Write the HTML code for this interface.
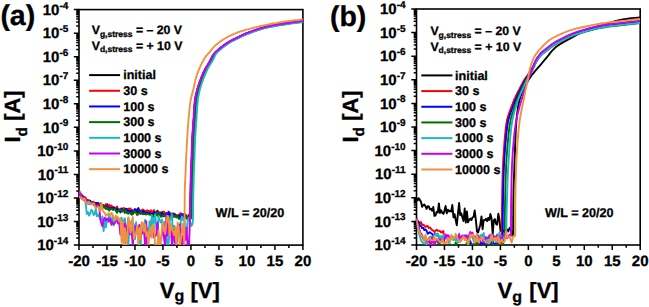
<!DOCTYPE html>
<html><head><meta charset="utf-8"><style>
html,body{margin:0;padding:0;background:#fff;}
body{width:649px;height:307px;overflow:hidden;}
svg{display:block;}
text{font-family:"Liberation Sans", sans-serif;font-weight:bold;fill:#000;text-rendering:geometricPrecision;stroke:#000;stroke-width:0.3px;}
</style></head><body>
<svg width="649" height="307" viewBox="0 0 649 307">
<rect x="79.00" y="9.60" width="223.90" height="235.50" fill="none" stroke="#000" stroke-width="1.6"/>
<path d="M73.80 9.60H79.00M76.20 26.06H79.00M76.20 21.91H79.00M76.20 18.97H79.00M76.20 16.69H79.00M76.20 14.82H79.00M76.20 13.25H79.00M76.20 11.88H79.00M76.20 10.68H79.00M73.80 33.15H79.00M76.20 49.61H79.00M76.20 45.46H79.00M76.20 42.52H79.00M76.20 40.24H79.00M76.20 38.37H79.00M76.20 36.80H79.00M76.20 35.43H79.00M76.20 34.23H79.00M73.80 56.70H79.00M76.20 73.16H79.00M76.20 69.01H79.00M76.20 66.07H79.00M76.20 63.79H79.00M76.20 61.92H79.00M76.20 60.35H79.00M76.20 58.98H79.00M76.20 57.78H79.00M73.80 80.25H79.00M76.20 96.71H79.00M76.20 92.56H79.00M76.20 89.62H79.00M76.20 87.34H79.00M76.20 85.47H79.00M76.20 83.90H79.00M76.20 82.53H79.00M76.20 81.33H79.00M73.80 103.80H79.00M76.20 120.26H79.00M76.20 116.11H79.00M76.20 113.17H79.00M76.20 110.89H79.00M76.20 109.02H79.00M76.20 107.45H79.00M76.20 106.08H79.00M76.20 104.88H79.00M73.80 127.35H79.00M76.20 143.81H79.00M76.20 139.66H79.00M76.20 136.72H79.00M76.20 134.44H79.00M76.20 132.57H79.00M76.20 131.00H79.00M76.20 129.63H79.00M76.20 128.43H79.00M73.80 150.90H79.00M76.20 167.36H79.00M76.20 163.21H79.00M76.20 160.27H79.00M76.20 157.99H79.00M76.20 156.12H79.00M76.20 154.55H79.00M76.20 153.18H79.00M76.20 151.98H79.00M73.80 174.45H79.00M76.20 190.91H79.00M76.20 186.76H79.00M76.20 183.82H79.00M76.20 181.54H79.00M76.20 179.67H79.00M76.20 178.10H79.00M76.20 176.73H79.00M76.20 175.53H79.00M73.80 198.00H79.00M76.20 214.46H79.00M76.20 210.31H79.00M76.20 207.37H79.00M76.20 205.09H79.00M76.20 203.22H79.00M76.20 201.65H79.00M76.20 200.28H79.00M76.20 199.08H79.00M73.80 221.55H79.00M76.20 238.01H79.00M76.20 233.86H79.00M76.20 230.92H79.00M76.20 228.64H79.00M76.20 226.77H79.00M76.20 225.20H79.00M76.20 223.83H79.00M76.20 222.63H79.00M73.80 245.10H79.00M79.00 245.10V250.10M92.99 245.10V247.90M106.99 245.10V250.10M120.98 245.10V247.90M134.97 245.10V250.10M148.97 245.10V247.90M162.96 245.10V250.10M176.96 245.10V247.90M190.95 245.10V250.10M204.94 245.10V247.90M218.94 245.10V250.10M232.93 245.10V247.90M246.92 245.10V250.10M260.92 245.10V247.90M274.91 245.10V250.10M288.91 245.10V247.90M302.90 245.10V250.10" stroke="#000" stroke-width="1.5" fill="none"/>
<text x="68.30" y="14.80" text-anchor="end" font-size="15">10<tspan font-size="10" dy="-6.2">-4</tspan></text>
<text x="68.30" y="38.35" text-anchor="end" font-size="15">10<tspan font-size="10" dy="-6.2">-5</tspan></text>
<text x="68.30" y="61.90" text-anchor="end" font-size="15">10<tspan font-size="10" dy="-6.2">-6</tspan></text>
<text x="68.30" y="85.45" text-anchor="end" font-size="15">10<tspan font-size="10" dy="-6.2">-7</tspan></text>
<text x="68.30" y="109.00" text-anchor="end" font-size="15">10<tspan font-size="10" dy="-6.2">-8</tspan></text>
<text x="68.30" y="132.55" text-anchor="end" font-size="15">10<tspan font-size="10" dy="-6.2">-9</tspan></text>
<text x="68.30" y="156.10" text-anchor="end" font-size="15">10<tspan font-size="10" dy="-6.2">-10</tspan></text>
<text x="68.30" y="179.65" text-anchor="end" font-size="15">10<tspan font-size="10" dy="-6.2">-11</tspan></text>
<text x="68.30" y="203.20" text-anchor="end" font-size="15">10<tspan font-size="10" dy="-6.2">-12</tspan></text>
<text x="68.30" y="226.75" text-anchor="end" font-size="15">10<tspan font-size="10" dy="-6.2">-13</tspan></text>
<text x="68.30" y="250.30" text-anchor="end" font-size="15">10<tspan font-size="10" dy="-6.2">-14</tspan></text>
<text x="79.00" y="266.10" text-anchor="middle" font-size="15">-20</text>
<text x="106.99" y="266.10" text-anchor="middle" font-size="15">-15</text>
<text x="134.97" y="266.10" text-anchor="middle" font-size="15">-10</text>
<text x="162.96" y="266.10" text-anchor="middle" font-size="15">-5</text>
<text x="190.95" y="266.10" text-anchor="middle" font-size="15">0</text>
<text x="218.94" y="266.10" text-anchor="middle" font-size="15">5</text>
<text x="246.92" y="266.10" text-anchor="middle" font-size="15">10</text>
<text x="274.91" y="266.10" text-anchor="middle" font-size="15">15</text>
<text x="302.90" y="266.10" text-anchor="middle" font-size="15">20</text>
<text x="0.38" y="25.2" font-size="28.5">(a)</text>
<text transform="translate(20.4,142.5) rotate(-90)" font-size="22">I<tspan font-size="15.4" dy="6.3">d</tspan><tspan dy="-6.3"> [A]</tspan></text>
<text x="159.85" y="297.7" font-size="22">V<tspan font-size="16" dy="3.6">g</tspan><tspan dy="-3.6" dx="0"> [V]</tspan></text>
<rect x="416.50" y="9.00" width="223.70" height="236.00" fill="none" stroke="#000" stroke-width="1.6"/>
<path d="M411.30 9.00H416.50M413.70 25.50H416.50M413.70 21.34H416.50M413.70 18.39H416.50M413.70 16.10H416.50M413.70 14.24H416.50M413.70 12.66H416.50M413.70 11.29H416.50M413.70 10.08H416.50M411.30 32.60H416.50M413.70 49.10H416.50M413.70 44.94H416.50M413.70 41.99H416.50M413.70 39.70H416.50M413.70 37.84H416.50M413.70 36.26H416.50M413.70 34.89H416.50M413.70 33.68H416.50M411.30 56.20H416.50M413.70 72.70H416.50M413.70 68.54H416.50M413.70 65.59H416.50M413.70 63.30H416.50M413.70 61.44H416.50M413.70 59.86H416.50M413.70 58.49H416.50M413.70 57.28H416.50M411.30 79.80H416.50M413.70 96.30H416.50M413.70 92.14H416.50M413.70 89.19H416.50M413.70 86.90H416.50M413.70 85.04H416.50M413.70 83.46H416.50M413.70 82.09H416.50M413.70 80.88H416.50M411.30 103.40H416.50M413.70 119.90H416.50M413.70 115.74H416.50M413.70 112.79H416.50M413.70 110.50H416.50M413.70 108.64H416.50M413.70 107.06H416.50M413.70 105.69H416.50M413.70 104.48H416.50M411.30 127.00H416.50M413.70 143.50H416.50M413.70 139.34H416.50M413.70 136.39H416.50M413.70 134.10H416.50M413.70 132.24H416.50M413.70 130.66H416.50M413.70 129.29H416.50M413.70 128.08H416.50M411.30 150.60H416.50M413.70 167.10H416.50M413.70 162.94H416.50M413.70 159.99H416.50M413.70 157.70H416.50M413.70 155.84H416.50M413.70 154.26H416.50M413.70 152.89H416.50M413.70 151.68H416.50M411.30 174.20H416.50M413.70 190.70H416.50M413.70 186.54H416.50M413.70 183.59H416.50M413.70 181.30H416.50M413.70 179.44H416.50M413.70 177.86H416.50M413.70 176.49H416.50M413.70 175.28H416.50M411.30 197.80H416.50M413.70 214.30H416.50M413.70 210.14H416.50M413.70 207.19H416.50M413.70 204.90H416.50M413.70 203.04H416.50M413.70 201.46H416.50M413.70 200.09H416.50M413.70 198.88H416.50M411.30 221.40H416.50M413.70 237.90H416.50M413.70 233.74H416.50M413.70 230.79H416.50M413.70 228.50H416.50M413.70 226.64H416.50M413.70 225.06H416.50M413.70 223.69H416.50M413.70 222.48H416.50M411.30 245.00H416.50M416.50 245.00V250.00M430.48 245.00V247.80M444.46 245.00V250.00M458.44 245.00V247.80M472.43 245.00V250.00M486.41 245.00V247.80M500.39 245.00V250.00M514.37 245.00V247.80M528.35 245.00V250.00M542.33 245.00V247.80M556.31 245.00V250.00M570.29 245.00V247.80M584.28 245.00V250.00M598.26 245.00V247.80M612.24 245.00V250.00M626.22 245.00V247.80M640.20 245.00V250.00" stroke="#000" stroke-width="1.5" fill="none"/>
<text x="405.60" y="14.20" text-anchor="end" font-size="15">10<tspan font-size="10" dy="-6.2">-4</tspan></text>
<text x="405.60" y="37.80" text-anchor="end" font-size="15">10<tspan font-size="10" dy="-6.2">-5</tspan></text>
<text x="405.60" y="61.40" text-anchor="end" font-size="15">10<tspan font-size="10" dy="-6.2">-6</tspan></text>
<text x="405.60" y="85.00" text-anchor="end" font-size="15">10<tspan font-size="10" dy="-6.2">-7</tspan></text>
<text x="405.60" y="108.60" text-anchor="end" font-size="15">10<tspan font-size="10" dy="-6.2">-8</tspan></text>
<text x="405.60" y="132.20" text-anchor="end" font-size="15">10<tspan font-size="10" dy="-6.2">-9</tspan></text>
<text x="405.60" y="155.80" text-anchor="end" font-size="15">10<tspan font-size="10" dy="-6.2">-10</tspan></text>
<text x="405.60" y="179.40" text-anchor="end" font-size="15">10<tspan font-size="10" dy="-6.2">-11</tspan></text>
<text x="405.60" y="203.00" text-anchor="end" font-size="15">10<tspan font-size="10" dy="-6.2">-12</tspan></text>
<text x="405.60" y="226.60" text-anchor="end" font-size="15">10<tspan font-size="10" dy="-6.2">-13</tspan></text>
<text x="405.60" y="250.20" text-anchor="end" font-size="15">10<tspan font-size="10" dy="-6.2">-14</tspan></text>
<text x="416.50" y="266.10" text-anchor="middle" font-size="15">-20</text>
<text x="444.46" y="266.10" text-anchor="middle" font-size="15">-15</text>
<text x="472.43" y="266.10" text-anchor="middle" font-size="15">-10</text>
<text x="500.39" y="266.10" text-anchor="middle" font-size="15">-5</text>
<text x="528.35" y="266.10" text-anchor="middle" font-size="15">0</text>
<text x="556.31" y="266.10" text-anchor="middle" font-size="15">5</text>
<text x="584.28" y="266.10" text-anchor="middle" font-size="15">10</text>
<text x="612.24" y="266.10" text-anchor="middle" font-size="15">15</text>
<text x="640.20" y="266.10" text-anchor="middle" font-size="15">20</text>
<text x="329.9" y="26.0" font-size="28.5">(b)</text>
<text transform="translate(358.0,142.5) rotate(-90)" font-size="22">I<tspan font-size="15.4" dy="6.3">d</tspan><tspan dy="-6.3"> [A]</tspan></text>
<text x="497.45" y="298.2" font-size="22">V<tspan font-size="16" dy="3.6">g</tspan><tspan dy="-3.6" dx="1.3"> [V]</tspan></text>
<clipPath id="clipA"><rect x="79.0" y="9.6" width="223.89999999999998" height="235.5"/></clipPath>
<clipPath id="clipB"><rect x="416.5" y="9.0" width="223.70000000000005" height="236.0"/></clipPath>
<g clip-path="url(#clipA)">
<path d="M79.0 193.9L80.1 194.4L81.2 194.7L82.4 196.3L83.5 196.6L84.6 198.9L85.7 201.6L86.8 199.8L88.0 200.3L89.1 202.5L90.2 202.9L91.3 203.1L92.4 202.2L93.6 203.9L94.7 205.4L95.8 202.9L96.9 204.6L98.0 202.9L99.2 204.1L100.3 203.6L101.4 206.2L102.5 205.0L103.6 207.4L104.8 207.5L105.9 207.3L107.0 204.2L108.1 207.2L109.2 208.1L110.4 208.5L111.5 206.4L112.6 208.1L113.7 207.5L114.8 207.9L116.0 210.7L117.1 208.3L118.2 209.5L119.3 210.9L120.4 209.0L121.6 209.8L122.7 210.2L123.8 210.3L124.9 208.6L126.0 210.6L127.2 212.5L128.3 208.6L129.4 212.0L130.5 211.1L131.6 210.2L132.8 214.0L133.9 212.4L135.0 209.7L136.1 211.6L137.2 212.4L138.4 211.5L139.5 212.8L140.6 211.9L141.7 213.0L142.8 214.2L144.0 211.3L145.1 212.7L146.2 211.9L147.3 212.8L148.4 211.0L149.6 212.0L150.7 212.6L151.8 214.3L152.9 214.7L154.0 211.4L155.2 212.2L156.3 214.3L157.4 210.7L158.5 213.0L159.6 213.6L160.8 215.6L161.9 214.9L163.0 213.6L164.1 213.6L165.2 213.9L166.4 216.5L167.5 213.9L168.6 214.1L169.7 215.2L170.8 214.6L172.0 214.6L173.1 213.4L174.2 215.0L175.3 214.5L176.4 216.9L177.6 216.3L178.7 215.4L179.8 216.5L180.9 215.2L182.0 217.2L183.2 215.9L184.3 216.8L185.4 214.3L187.5 219.0L189.5 215.0L190.5 212.2L190.5 209.3L190.5 206.4L190.6 203.5L190.6 200.6L190.7 197.8L190.7 195.0L190.8 192.4L190.8 189.8L190.9 187.3L190.9 184.7L191.0 182.2L191.1 179.8L191.1 177.4L191.2 175.0L191.3 173.0L191.3 171.1L191.4 169.3L191.5 167.5L191.6 165.7L191.6 163.9L191.7 162.0L191.8 160.0L191.9 157.6L192.0 155.2L192.0 152.7L192.1 150.2L192.2 147.6L192.3 145.1L192.4 142.5L192.5 140.0L192.6 137.5L192.8 135.0L192.9 132.5L193.1 130.0L193.3 127.5L193.4 125.0L193.6 122.5L193.8 120.0L194.0 117.5L194.1 114.8L194.3 112.2L194.4 109.6L194.6 107.0L194.8 104.5L195.0 102.2L195.3 100.0L195.5 98.6L195.7 97.3L196.0 96.0L196.2 94.8L196.5 93.6L196.8 92.4L197.1 91.2L197.4 90.0L197.7 88.8L198.1 87.5L198.5 86.2L198.9 85.0L199.3 83.7L199.7 82.5L200.2 81.3L200.6 80.0L201.1 78.8L201.6 77.6L202.1 76.4L202.6 75.2L203.1 74.0L203.6 72.8L204.2 71.7L204.7 70.5L205.3 69.5L205.8 68.4L206.4 67.4L207.1 66.4L207.7 65.4L208.3 64.4L208.9 63.4L209.5 62.3L210.1 61.3L210.6 60.3L211.1 59.2L211.7 58.2L212.2 57.1L212.7 56.1L213.3 55.2L214.0 54.3L214.6 53.5L215.2 52.7L215.9 52.0L216.7 51.3L217.4 50.7L218.2 50.0L219.0 49.3L219.9 48.6L220.9 47.8L222.1 46.9L223.3 46.0L224.5 45.1L225.7 44.2L227.0 43.3L228.3 42.5L229.5 41.7L230.7 41.0L232.0 40.4L233.3 39.7L234.6 39.1L235.8 38.5L237.0 37.9L238.2 37.4L239.3 36.9L240.0 36.5L240.5 36.2L241.1 35.9L241.6 35.7L242.1 35.4L242.7 35.1L243.4 34.8L244.2 34.5L246.1 33.7L248.3 32.8L250.9 31.9L253.6 30.9L256.5 29.9L259.4 28.9L262.3 28.0L265.0 27.3L267.6 26.7L270.3 26.1L273.0 25.6L275.6 25.1L278.3 24.7L280.9 24.3L283.5 23.9L286.0 23.5L288.2 23.2L290.4 22.8L292.5 22.6L294.6 22.3L296.6 22.0L298.7 21.7L300.8 21.5L302.9 21.2" stroke="#000000" stroke-width="1.9" fill="none" stroke-linejoin="round"/>
<path d="M79.0 190.1L80.1 193.4L81.2 193.8L82.4 196.2L83.5 199.6L84.6 196.9L85.7 197.9L86.8 199.7L88.0 200.7L89.1 200.6L90.2 201.1L91.3 202.8L92.4 203.1L93.6 201.7L94.7 203.3L95.8 203.8L96.9 202.9L98.0 204.9L99.2 203.9L100.3 206.4L101.4 205.7L102.5 205.9L103.6 205.3L104.8 206.2L105.9 204.1L107.0 205.4L108.1 207.4L109.2 204.6L110.4 208.4L111.5 205.5L112.6 208.6L113.7 206.9L114.8 209.0L116.0 208.4L117.1 206.5L118.2 210.0L119.3 210.4L120.4 208.7L121.6 208.6L122.7 208.9L123.8 208.1L124.9 210.7L126.0 208.8L127.2 209.5L128.3 208.8L129.4 209.1L130.5 208.4L131.6 211.6L132.8 210.0L133.9 211.5L135.0 210.4L136.1 209.7L137.2 210.2L138.4 210.1L139.5 210.9L140.6 210.5L141.7 210.7L142.8 209.5L144.0 210.3L145.1 213.4L146.2 210.7L147.3 210.3L148.4 212.1L149.6 213.5L150.7 210.2L151.8 211.8L152.9 211.4L154.0 210.1L155.2 213.2L156.3 212.4L157.4 212.6L158.5 211.7L159.6 213.3L160.8 212.2L161.9 212.8L163.0 211.7L164.1 211.7L165.2 214.9L166.4 212.7L167.5 213.8L168.6 213.5L169.7 213.1L170.8 213.1L172.0 214.6L173.1 213.6L174.2 213.9L175.3 214.2L176.4 215.7L177.6 215.2L178.7 214.9L179.8 213.9L180.9 213.0L182.0 215.9L183.2 216.0L184.3 214.8L185.4 215.7L187.0 217.0L189.5 214.0L190.4 212.2L190.4 209.3L190.4 206.4L190.5 203.5L190.5 200.6L190.6 197.8L190.6 195.0L190.7 192.4L190.7 189.8L190.8 187.3L190.8 184.7L190.9 182.2L191.0 179.8L191.0 177.4L191.1 175.0L191.2 173.0L191.2 171.1L191.3 169.3L191.4 167.5L191.5 165.7L191.5 163.9L191.6 162.0L191.7 160.0L191.8 157.6L191.9 155.2L191.9 152.7L192.0 150.2L192.1 147.6L192.2 145.1L192.3 142.5L192.4 140.0L192.5 137.5L192.7 135.0L192.8 132.5L193.0 130.0L193.2 127.5L193.3 125.0L193.5 122.5L193.7 120.0L193.9 117.5L194.0 114.8L194.2 112.2L194.3 109.6L194.5 107.0L194.7 104.5L194.9 102.2L195.2 100.0L195.4 98.6L195.6 97.2L195.9 96.0L196.1 94.8L196.4 93.6L196.7 92.4L197.0 91.2L197.3 90.0L197.6 88.7L198.0 87.5L198.4 86.2L198.8 85.0L199.2 83.7L199.7 82.5L200.1 81.2L200.6 80.0L201.0 78.8L201.5 77.6L202.0 76.4L202.5 75.2L203.0 74.0L203.5 72.8L204.1 71.7L204.6 70.5L205.2 69.5L205.8 68.4L206.4 67.4L207.0 66.4L207.6 65.4L208.2 64.4L208.8 63.3L209.4 62.3L210.0 61.3L210.5 60.2L211.1 59.2L211.6 58.1L212.1 57.1L212.7 56.1L213.3 55.1L213.9 54.2L214.5 53.4L215.2 52.7L215.9 52.0L216.6 51.3L217.4 50.6L218.2 49.9L219.0 49.3L219.8 48.6L220.9 47.7L222.0 46.8L223.2 45.9L224.4 45.0L225.7 44.1L227.0 43.3L228.2 42.4L229.5 41.7L230.7 41.0L232.0 40.3L233.2 39.6L234.5 39.0L235.8 38.4L237.0 37.8L238.2 37.3L239.3 36.8L239.9 36.4L240.5 36.1L241.1 35.8L241.6 35.6L242.1 35.3L242.7 35.0L243.4 34.7L244.1 34.4L246.0 33.6L248.3 32.7L250.9 31.8L253.6 30.8L256.5 29.8L259.4 28.8L262.3 28.0L265.0 27.2L267.6 26.6L270.3 26.0L272.9 25.5L275.6 25.0L278.3 24.6L280.9 24.2L283.5 23.8L286.0 23.4L288.2 23.1L290.4 22.8L292.5 22.5L294.6 22.2L296.6 21.9L298.7 21.6L300.8 21.4L302.9 21.1" stroke="#ff0000" stroke-width="1.9" fill="none" stroke-linejoin="round"/>
<path d="M79.0 194.8L80.1 194.4L81.2 197.9L82.4 195.7L83.5 199.2L84.6 199.6L85.7 200.9L86.8 202.9L88.0 203.1L89.1 200.6L90.2 200.6L91.3 204.1L92.4 202.4L93.6 204.1L94.7 205.6L95.8 203.0L96.9 202.9L98.0 206.1L99.2 206.1L100.3 206.1L101.4 206.8L102.5 206.0L103.6 205.4L104.8 207.3L105.9 206.6L107.0 206.0L108.1 208.8L109.2 208.3L110.4 209.1L111.5 207.6L112.6 208.1L113.7 207.9L114.8 208.2L116.0 209.7L117.1 208.6L118.2 210.2L119.3 210.3L120.4 212.4L121.6 208.5L122.7 211.4L123.8 210.3L124.9 210.5L126.0 208.9L127.2 210.2L128.3 211.8L129.4 210.9L130.5 211.3L131.6 210.9L132.8 212.8L133.9 211.5L135.0 209.0L136.1 210.9L137.2 209.5L138.4 208.0L139.5 211.4L140.6 213.8L141.7 212.3L142.8 211.0L144.0 211.4L145.1 214.0L146.2 212.9L147.3 212.9L148.4 212.8L149.6 213.1L150.7 214.1L151.8 213.9L152.9 213.6L154.0 212.2L155.2 214.1L156.3 212.8L157.4 215.0L158.5 212.3L159.6 213.8L160.8 214.0L161.9 212.6L163.0 216.3L164.1 216.1L165.2 213.9L166.4 215.5L167.5 215.1L168.6 211.6L169.7 215.2L170.8 214.9L172.0 215.2L173.1 213.9L174.2 214.9L175.3 215.2L176.4 216.9L177.6 216.0L178.7 215.7L179.8 217.6L180.9 215.2L182.0 215.5L183.2 213.9L184.3 218.1L185.4 217.4L188.0 218.0L190.0 215.0L190.6 212.2L190.6 209.3L190.6 206.4L190.7 203.5L190.7 200.6L190.8 197.8L190.8 195.0L190.9 192.4L190.9 189.8L191.0 187.3L191.0 184.7L191.1 182.2L191.2 179.8L191.2 177.4L191.3 175.0L191.4 173.0L191.4 171.1L191.5 169.3L191.6 167.5L191.7 165.7L191.7 163.9L191.8 162.0L191.9 160.0L192.0 157.6L192.1 155.2L192.1 152.7L192.2 150.2L192.3 147.6L192.4 145.1L192.5 142.5L192.6 140.0L192.7 137.5L192.9 135.0L193.0 132.5L193.2 130.0L193.4 127.5L193.5 125.0L193.7 122.5L193.9 120.0L194.1 117.5L194.2 114.8L194.4 112.2L194.5 109.6L194.7 107.0L194.9 104.5L195.1 102.2L195.4 100.0L195.6 98.6L195.8 97.3L196.1 96.0L196.3 94.8L196.6 93.6L196.8 92.4L197.1 91.2L197.5 90.0L197.8 88.8L198.2 87.5L198.6 86.2L199.0 85.0L199.4 83.7L199.8 82.5L200.3 81.3L200.7 80.0L201.2 78.8L201.7 77.6L202.2 76.4L202.7 75.2L203.2 74.0L203.7 72.8L204.2 71.7L204.8 70.5L205.3 69.5L205.9 68.4L206.5 67.4L207.1 66.4L207.7 65.4L208.4 64.4L209.0 63.4L209.6 62.3L210.2 61.3L210.7 60.3L211.2 59.2L211.7 58.2L212.3 57.1L212.8 56.1L213.4 55.2L214.0 54.3L214.6 53.5L215.3 52.7L216.0 52.0L216.7 51.3L217.5 50.7L218.2 50.0L219.1 49.3L219.9 48.6L221.0 47.8L222.1 46.9L223.3 46.0L224.5 45.1L225.8 44.2L227.0 43.3L228.3 42.5L229.5 41.7L230.7 41.0L232.0 40.4L233.3 39.7L234.6 39.1L235.8 38.5L237.1 37.9L238.2 37.4L239.3 36.9L240.0 36.5L240.6 36.2L241.1 35.9L241.6 35.7L242.2 35.4L242.7 35.1L243.4 34.8L244.2 34.5L246.1 33.7L248.3 32.8L250.9 31.9L253.7 30.9L256.5 29.9L259.4 28.9L262.3 28.0L265.0 27.3L267.6 26.7L270.3 26.1L273.0 25.6L275.6 25.1L278.3 24.7L280.9 24.3L283.5 23.9L286.0 23.5L288.2 23.2L290.4 22.8L292.5 22.6L294.6 22.3L296.6 22.0L298.7 21.7L300.8 21.5L302.9 21.2" stroke="#0000ff" stroke-width="1.9" fill="none" stroke-linejoin="round"/>
<path d="M79.0 193.6L80.1 194.9L81.2 195.5L82.4 196.6L83.5 197.8L84.6 200.5L85.7 200.2L86.8 200.2L88.0 200.3L89.1 200.9L90.2 204.3L91.3 203.5L92.4 203.6L93.6 203.6L94.7 203.2L95.8 204.9L96.9 206.4L98.0 205.3L99.2 205.9L100.3 206.3L101.4 207.0L102.5 205.3L103.6 207.3L104.8 206.8L105.9 209.2L107.0 207.5L108.1 209.4L109.2 210.7L110.4 208.8L111.5 208.7L112.6 209.8L113.7 209.8L114.8 208.8L116.0 210.8L117.1 212.8L118.2 210.3L119.3 210.5L120.4 209.7L121.6 211.5L122.7 209.8L123.8 210.1L124.9 213.1L126.0 210.6L127.2 213.2L128.3 213.8L129.4 212.5L130.5 213.0L131.6 214.8L132.8 212.3L133.9 212.0L135.0 211.2L136.1 213.0L137.2 214.9L138.4 214.4L139.5 212.2L140.6 212.5L141.7 213.0L142.8 214.1L144.0 213.6L145.1 214.2L146.2 214.5L147.3 213.9L148.4 214.3L149.6 214.7L150.7 214.5L151.8 215.3L152.9 217.1L154.0 215.6L155.2 215.1L156.3 213.1L157.4 215.8L158.5 213.1L159.6 213.8L160.8 216.7L161.9 216.6L163.0 215.7L164.1 213.9L165.2 215.6L166.4 215.4L167.5 217.1L168.6 219.1L169.7 216.8L170.8 215.7L172.0 215.4L173.1 216.8L174.2 216.8L175.3 215.7L176.4 217.4L177.6 216.0L178.7 218.8L179.8 218.8L180.9 219.0L182.0 217.2L183.2 218.5L184.3 217.9L185.4 217.7L186.5 217.8L189.0 220.0L191.3 218.0L191.6 215.1L191.7 212.2L191.7 209.3L191.7 206.4L191.8 203.5L191.8 200.6L191.9 197.8L191.9 195.0L192.0 192.4L192.0 189.8L192.1 187.3L192.1 184.7L192.2 182.2L192.3 179.8L192.3 177.4L192.4 175.0L192.5 173.0L192.5 171.2L192.6 169.3L192.7 167.5L192.8 165.7L192.8 163.9L192.9 162.0L193.0 160.0L193.1 157.6L193.2 155.2L193.2 152.7L193.3 150.2L193.4 147.6L193.5 145.1L193.6 142.5L193.7 140.0L193.8 137.5L194.0 135.0L194.1 132.5L194.3 130.0L194.5 127.5L194.6 125.0L194.8 122.5L195.0 120.0L195.2 117.5L195.3 114.8L195.5 112.2L195.6 109.6L195.8 107.0L196.0 104.5L196.2 102.2L196.5 100.0L196.7 98.6L196.9 97.3L197.1 96.0L197.4 94.8L197.6 93.6L197.9 92.5L198.2 91.3L198.5 90.1L198.8 88.8L199.2 87.5L199.6 86.3L200.0 85.0L200.4 83.8L200.8 82.6L201.2 81.3L201.7 80.1L202.2 78.9L202.6 77.7L203.1 76.5L203.6 75.3L204.1 74.1L204.6 72.9L205.1 71.8L205.7 70.7L206.2 69.6L206.8 68.6L207.3 67.6L207.9 66.6L208.5 65.6L209.2 64.5L209.8 63.5L210.4 62.5L211.0 61.4L211.6 60.4L212.1 59.3L212.6 58.3L213.1 57.3L213.6 56.3L214.2 55.4L214.7 54.5L215.3 53.7L215.9 53.0L216.5 52.3L217.2 51.7L217.9 51.0L218.7 50.4L219.5 49.7L220.3 49.0L221.4 48.1L222.5 47.2L223.7 46.4L224.9 45.5L226.1 44.6L227.4 43.8L228.6 42.9L229.8 42.2L231.0 41.5L232.2 40.8L233.5 40.2L234.8 39.6L236.0 39.0L237.3 38.4L238.4 37.9L239.5 37.3L240.2 37.0L240.8 36.7L241.3 36.4L241.9 36.1L242.4 35.9L242.9 35.6L243.6 35.3L244.3 35.0L246.2 34.2L248.5 33.3L251.0 32.4L253.8 31.4L256.6 30.4L259.5 29.5L262.4 28.6L265.1 27.8L267.7 27.2L270.3 26.7L273.0 26.2L275.7 25.7L278.3 25.3L280.9 24.9L283.5 24.5L286.0 24.1L288.2 23.7L290.4 23.4L292.5 23.1L294.6 22.9L296.7 22.6L298.7 22.3L300.8 22.1L302.9 21.8" stroke="#006f00" stroke-width="1.9" fill="none" stroke-linejoin="round"/>
<path d="M79.0 193.3L80.1 194.2L81.2 196.5L82.4 199.0L83.5 197.9L84.6 200.4L85.7 202.9L86.8 214.0L88.0 212.1L89.1 215.6L90.2 213.5L91.3 210.0L92.4 210.7L93.6 215.0L94.7 214.2L95.8 208.3L96.9 216.4L98.0 214.5L99.2 216.4L100.3 219.5L101.4 219.8L102.5 216.5L103.6 231.1L104.8 220.3L105.9 227.4L107.0 218.4L108.1 221.7L109.2 214.3L110.4 219.5L111.5 224.9L112.6 216.0L113.7 225.3L114.8 222.3L116.0 216.8L117.1 219.0L118.2 219.2L119.3 220.8L120.4 218.9L121.6 217.7L122.7 225.7L123.8 220.3L124.9 218.3L126.0 227.6L127.2 234.6L128.3 246.0L129.4 228.0L130.5 223.1L131.6 220.7L132.8 234.4L133.9 224.1L135.0 239.2L136.1 222.2L137.2 230.9L138.4 226.3L139.5 246.0L140.6 246.0L141.7 226.8L142.8 232.5L144.0 227.6L145.1 219.9L146.2 227.2L147.3 228.4L148.4 235.2L149.6 221.2L150.7 227.7L151.8 215.1L152.9 232.9L154.0 219.9L155.2 214.5L156.3 227.6L157.4 236.3L158.5 216.6L159.6 219.8L160.8 222.4L161.9 219.5L163.0 230.8L164.1 221.9L165.2 222.6L166.4 232.4L167.5 246.0L168.6 246.0L169.7 220.7L170.8 218.9L172.0 214.2L173.1 242.0L174.2 225.6L175.3 229.8L176.4 227.8L177.6 229.2L178.7 228.4L179.8 242.3L180.9 220.2L182.0 216.3L183.2 220.4L184.3 218.0L185.4 233.6L186.5 234.2L187.6 220.8L188.8 217.6L191.5 226.0L192.7 223.0L193.0 218.0L193.0 215.1L193.1 212.2L193.1 209.3L193.1 206.4L193.2 203.5L193.2 200.6L193.3 197.8L193.3 195.0L193.3 192.4L193.4 189.8L193.5 187.3L193.5 184.7L193.6 182.2L193.7 179.8L193.7 177.4L193.8 175.0L193.9 173.0L193.9 171.2L194.0 169.3L194.1 167.5L194.2 165.7L194.2 163.9L194.3 162.0L194.4 160.0L194.5 157.6L194.6 155.2L194.6 152.7L194.7 150.2L194.8 147.6L194.9 145.1L195.0 142.5L195.1 140.0L195.2 137.5L195.4 135.0L195.5 132.5L195.7 130.0L195.9 127.5L196.0 125.0L196.2 122.5L196.4 120.0L196.6 117.5L196.7 114.8L196.9 112.2L197.0 109.6L197.2 107.0L197.4 104.5L197.6 102.2L197.8 100.0L198.0 98.6L198.2 97.3L198.5 96.0L198.7 94.8L198.9 93.6L199.2 92.5L199.5 91.3L199.8 90.1L200.1 88.8L200.5 87.6L200.8 86.3L201.2 85.1L201.6 83.8L202.0 82.6L202.5 81.3L202.9 80.1L203.4 78.9L203.8 77.7L204.3 76.5L204.8 75.3L205.3 74.1L205.8 73.0L206.3 71.8L206.8 70.7L207.3 69.6L207.8 68.6L208.4 67.6L209.0 66.6L209.6 65.6L210.2 64.6L210.8 63.6L211.5 62.5L212.1 61.5L212.7 60.4L213.2 59.4L213.7 58.3L214.2 57.3L214.7 56.3L215.1 55.4L215.6 54.5L216.1 53.8L216.6 53.1L217.2 52.4L217.8 51.8L218.5 51.1L219.3 50.4L220.1 49.8L220.9 49.1L221.9 48.2L223.0 47.3L224.2 46.5L225.4 45.6L226.6 44.7L227.8 43.9L229.0 43.1L230.2 42.3L231.3 41.6L232.5 41.0L233.8 40.3L235.0 39.7L236.3 39.1L237.5 38.5L238.7 38.0L239.8 37.5L240.5 37.1L241.1 36.8L241.6 36.5L242.2 36.2L242.7 36.0L243.2 35.7L243.8 35.4L244.5 35.1L246.4 34.3L248.7 33.5L251.2 32.5L253.9 31.5L256.8 30.5L259.7 29.6L262.5 28.7L265.2 28.0L267.8 27.4L270.4 26.8L273.0 26.3L275.7 25.8L278.3 25.4L281.0 25.0L283.5 24.6L286.1 24.2L288.3 23.9L290.4 23.6L292.5 23.3L294.6 23.0L296.7 22.8L298.8 22.5L300.9 22.2L303.0 21.9" stroke="#1cb8c4" stroke-width="1.9" fill="none" stroke-linejoin="round"/>
<path d="M79.0 191.1L80.1 196.4L81.2 195.6L82.4 199.2L83.5 197.7L84.6 199.5L85.7 198.9L86.8 200.3L88.0 203.8L89.1 203.8L90.2 202.9L91.3 202.9L92.4 202.2L93.6 204.5L94.7 205.4L95.8 205.7L96.9 206.1L98.0 205.2L99.2 206.8L100.3 218.9L101.4 223.9L102.5 226.3L103.6 219.6L104.8 217.7L105.9 220.5L107.0 219.0L108.1 218.8L109.2 221.6L110.4 218.5L111.5 224.6L112.6 222.4L113.7 224.0L114.8 222.8L116.0 221.2L117.1 220.8L118.2 223.6L119.3 222.9L120.4 234.6L121.6 233.0L122.7 223.5L123.8 233.5L124.9 223.6L126.0 228.7L127.2 230.9L128.3 218.5L129.4 233.6L130.5 234.1L131.6 231.9L132.8 246.0L133.9 230.4L135.0 226.2L136.1 231.1L137.2 229.1L138.4 233.6L139.5 224.6L140.6 234.6L141.7 234.0L142.8 232.0L144.0 229.9L145.1 246.0L146.2 221.3L147.3 246.0L148.4 234.7L149.6 235.0L150.7 235.7L151.8 228.4L152.9 231.2L154.0 237.5L155.2 236.0L156.3 234.4L157.4 222.4L158.5 236.8L159.6 241.2L160.8 240.1L161.9 234.6L163.0 222.1L164.1 239.6L165.2 246.0L166.4 215.3L167.5 235.6L168.6 222.6L169.7 223.9L170.8 228.6L172.0 246.0L173.1 230.4L174.2 234.9L175.3 245.2L176.4 244.2L177.6 232.3L178.7 231.3L179.8 224.2L180.9 246.0L182.0 236.0L183.2 246.0L184.3 233.8L185.4 240.0L186.5 227.6L187.6 246.0L189.0 246.0L190.0 218.0L190.0 215.1L190.1 212.2L190.1 209.3L190.1 206.4L190.2 203.5L190.2 200.6L190.3 197.8L190.3 195.0L190.4 192.4L190.4 189.8L190.5 187.3L190.5 184.7L190.6 182.2L190.7 179.8L190.7 177.4L190.8 175.0L190.9 173.0L190.9 171.1L191.0 169.3L191.1 167.5L191.2 165.7L191.2 163.9L191.3 162.0L191.4 160.0L191.5 157.6L191.6 155.2L191.6 152.7L191.7 150.2L191.8 147.6L191.9 145.1L192.0 142.5L192.1 140.0L192.2 137.5L192.4 135.0L192.5 132.5L192.7 130.0L192.9 127.5L193.0 125.0L193.2 122.5L193.4 120.0L193.6 117.5L193.7 114.8L193.9 112.2L194.0 109.6L194.2 107.0L194.4 104.5L194.6 102.2L194.9 100.0L195.1 98.6L195.3 97.2L195.6 96.0L195.8 94.8L196.1 93.6L196.4 92.4L196.7 91.2L197.0 90.0L197.4 88.7L197.7 87.5L198.1 86.2L198.5 85.0L198.9 83.7L199.4 82.5L199.8 81.2L200.3 80.0L200.8 78.8L201.2 77.6L201.7 76.4L202.2 75.2L202.8 74.0L203.3 72.8L203.8 71.6L204.4 70.5L205.0 69.4L205.5 68.4L206.1 67.4L206.8 66.3L207.4 65.3L208.0 64.3L208.6 63.3L209.2 62.3L209.8 61.3L210.3 60.2L210.8 59.2L211.3 58.1L211.9 57.1L212.4 56.1L213.0 55.1L213.7 54.2L214.4 53.4L215.0 52.6L215.7 51.9L216.5 51.2L217.2 50.6L218.0 49.9L218.8 49.2L219.7 48.5L220.8 47.6L221.9 46.7L223.1 45.8L224.3 44.9L225.6 44.1L226.9 43.2L228.1 42.4L229.4 41.6L230.6 40.9L231.9 40.2L233.2 39.6L234.5 38.9L235.7 38.3L237.0 37.8L238.1 37.2L239.2 36.7L239.9 36.4L240.5 36.1L241.0 35.8L241.5 35.5L242.1 35.2L242.7 34.9L243.3 34.6L244.1 34.3L246.0 33.5L248.3 32.6L250.8 31.7L253.6 30.7L256.5 29.7L259.4 28.7L262.3 27.9L265.0 27.1L267.6 26.5L270.3 25.9L272.9 25.4L275.6 24.9L278.3 24.5L280.9 24.1L283.5 23.7L286.0 23.3L288.2 23.0L290.3 22.7L292.5 22.4L294.6 22.1L296.6 21.8L298.7 21.6L300.8 21.3L302.9 21.0" stroke="#c800f6" stroke-width="1.9" fill="none" stroke-linejoin="round"/>
<path d="M79.0 196.8L80.1 197.2L81.2 197.5L82.4 199.4L83.5 198.8L84.6 198.9L85.7 202.4L86.8 202.4L88.0 203.5L89.1 201.8L90.2 204.0L91.3 204.2L92.4 204.4L93.6 203.2L94.7 206.0L95.8 207.9L96.9 207.6L98.0 206.8L99.2 207.9L100.3 211.0L101.4 202.7L102.5 209.8L103.6 212.0L104.8 212.8L105.9 215.9L107.0 215.0L108.1 213.4L109.2 213.9L110.4 215.6L111.5 212.8L112.6 214.6L113.7 217.4L114.8 220.6L116.0 215.8L117.1 216.6L118.2 217.7L119.3 221.1L120.4 218.1L121.6 242.5L122.7 221.8L123.8 246.0L124.9 228.3L126.0 246.0L127.2 238.9L128.3 217.2L129.4 222.2L130.5 232.9L131.6 224.4L132.8 217.1L133.9 238.8L135.0 234.2L136.1 234.2L137.2 226.0L138.4 246.0L139.5 228.0L140.6 239.3L141.7 222.3L142.8 222.7L144.0 231.7L145.1 224.0L146.2 235.7L147.3 232.2L148.4 246.0L149.6 230.6L150.7 227.0L151.8 237.8L152.9 224.6L154.0 226.3L155.2 246.0L156.3 246.0L157.4 246.0L158.5 230.5L159.6 246.0L160.8 243.0L161.9 228.9L163.0 221.7L164.1 231.0L165.2 233.8L166.4 223.0L167.5 216.0L168.6 217.8L169.7 235.7L170.8 223.6L172.0 228.8L173.1 231.8L174.2 235.3L175.3 227.2L176.4 246.0L177.6 222.4L178.7 226.9L179.8 246.0L180.9 239.6L182.0 229.8L183.2 223.7L184.3 246.0L184.6 218.0L184.6 215.7L184.6 213.4L184.6 211.0L184.6 208.7L184.7 206.4L184.7 204.1L184.7 202.0L184.7 200.0L184.7 198.6L184.7 197.4L184.7 196.3L184.7 195.2L184.7 194.0L184.7 192.8L184.8 191.5L184.8 190.0L184.9 187.0L185.0 183.5L185.2 179.7L185.4 175.6L185.6 171.5L185.7 167.5L185.9 163.6L186.1 160.0L186.2 157.3L186.3 154.7L186.5 152.2L186.6 149.7L186.7 147.3L186.8 144.9L187.0 142.5L187.1 140.0L187.3 137.5L187.4 135.0L187.6 132.5L187.7 130.0L187.9 127.5L188.1 125.0L188.3 122.5L188.5 120.0L188.7 117.5L189.0 114.8L189.2 112.2L189.5 109.6L189.7 107.0L190.0 104.5L190.3 102.2L190.7 100.0L191.0 98.6L191.3 97.3L191.6 96.0L191.9 94.9L192.2 93.7L192.5 92.5L192.9 91.3L193.2 90.0L193.6 88.5L193.9 86.9L194.2 85.3L194.6 83.7L195.0 82.0L195.3 80.4L195.8 78.8L196.2 77.3L196.6 75.9L197.1 74.5L197.6 73.1L198.1 71.7L198.6 70.3L199.2 69.0L199.7 67.7L200.3 66.4L200.8 65.2L201.4 64.0L202.0 62.9L202.6 61.8L203.2 60.6L203.8 59.6L204.4 58.5L205.1 57.5L205.7 56.6L206.4 55.7L207.1 54.9L207.8 54.1L208.5 53.3L209.2 52.5L209.8 51.8L210.5 51.0L211.0 50.3L211.5 49.7L212.0 49.1L212.5 48.5L213.0 47.9L213.6 47.3L214.1 46.6L214.8 46.0L215.8 45.1L216.9 44.2L218.1 43.2L219.4 42.3L220.7 41.3L222.0 40.4L223.3 39.5L224.6 38.7L225.8 38.0L227.0 37.3L228.2 36.7L229.4 36.0L230.6 35.4L231.8 34.9L233.1 34.3L234.3 33.8L235.5 33.3L236.6 32.9L237.8 32.4L238.9 32.0L240.1 31.6L241.4 31.2L242.7 30.8L244.1 30.4L246.3 29.7L248.8 29.1L251.3 28.4L254.0 27.7L256.8 27.0L259.6 26.3L262.3 25.7L265.0 25.1L267.6 24.6L270.3 24.0L273.0 23.5L275.6 23.1L278.3 22.6L280.9 22.2L283.5 21.8L286.0 21.4L288.2 21.1L290.3 20.8L292.5 20.6L294.6 20.3L296.6 20.1L298.7 19.9L300.8 19.6L302.9 19.4" stroke="#f0913e" stroke-width="1.9" fill="none" stroke-linejoin="round"/>
</g>
<g clip-path="url(#clipB)">
<path d="M416.5 198.2L417.6 200.6L418.7 198.2L419.9 199.9L421.0 201.8L422.1 206.9L423.2 205.3L424.3 204.4L425.5 206.3L426.6 208.9L427.7 206.1L428.8 206.4L429.9 209.3L431.1 208.7L432.2 210.7L433.3 207.0L434.4 215.9L435.5 215.5L436.7 211.8L437.8 212.6L438.9 203.4L440.0 213.0L441.1 210.3L442.3 212.8L443.4 213.9L444.5 210.5L445.6 206.0L446.7 213.4L447.9 209.7L449.0 211.4L450.1 210.6L451.2 211.7L452.3 204.9L453.5 217.4L454.6 214.2L455.7 220.1L456.8 225.4L457.9 213.8L459.1 203.0L460.2 215.1L461.3 213.3L462.4 217.5L463.5 221.0L464.7 208.5L465.8 222.6L466.9 211.4L468.0 222.3L469.1 219.8L470.3 218.6L471.4 220.1L472.5 217.3L473.6 216.8L474.7 210.4L475.9 220.3L477.0 231.6L478.1 232.4L479.2 228.4L480.3 224.7L481.5 216.4L482.6 229.2L483.7 220.2L484.8 220.1L485.9 218.8L487.1 221.1L488.2 217.9L489.3 220.0L490.4 214.0L491.5 218.3L492.7 234.2L493.8 220.1L494.9 219.1L496.0 223.7L497.1 224.7L498.3 213.8L499.4 219.3L500.5 230.9L501.6 230.3L502.7 230.1L503.9 231.6L505.0 229.3L506.1 230.1L507.2 229.5L508.3 231.5L509.5 228.0L510.6 229.3L513.2 236.0L513.2 231.5L513.2 227.1L513.2 222.7L513.2 218.3L513.3 213.8L513.3 209.3L513.3 204.7L513.4 200.0L513.5 194.6L513.6 189.0L513.8 183.2L514.0 177.5L514.2 171.7L514.4 166.0L514.6 160.4L514.8 155.0L515.0 150.3L515.1 145.7L515.3 141.1L515.5 136.6L515.7 132.2L515.9 128.0L516.2 123.9L516.5 120.0L516.8 117.2L517.1 114.4L517.4 111.8L517.8 109.2L518.1 106.7L518.5 104.4L519.0 102.1L519.5 100.0L519.9 98.6L520.3 97.2L520.8 95.9L521.3 94.6L521.7 93.4L522.2 92.3L522.7 91.1L523.2 90.0L523.6 89.1L524.0 88.1L524.4 87.3L524.8 86.4L525.2 85.6L525.7 84.7L526.1 83.9L526.6 83.0L527.1 82.1L527.7 81.1L528.3 80.2L528.9 79.3L529.5 78.4L530.1 77.4L530.8 76.5L531.5 75.5L532.4 74.3L533.4 73.1L534.4 71.9L535.4 70.7L536.5 69.5L537.6 68.2L538.7 67.0L539.7 65.8L540.7 64.6L541.8 63.3L542.9 62.0L544.0 60.7L545.0 59.5L546.1 58.2L547.0 57.1L547.9 56.0L548.5 55.3L549.0 54.6L549.5 53.9L550.0 53.2L550.5 52.6L551.0 52.0L551.5 51.4L552.0 50.8L552.5 50.3L553.0 49.8L553.5 49.3L554.0 48.8L554.5 48.3L555.0 47.9L555.5 47.4L556.0 47.0L556.5 46.6L557.0 46.2L557.5 45.9L557.9 45.5L558.4 45.2L559.0 44.9L559.5 44.5L560.0 44.2L560.6 43.8L561.2 43.5L561.8 43.1L562.5 42.7L563.1 42.4L563.7 42.0L564.4 41.7L565.0 41.3L565.6 41.0L566.2 40.6L566.8 40.3L567.4 40.0L568.0 39.7L568.6 39.3L569.3 39.0L570.0 38.6L571.1 38.0L572.3 37.4L573.5 36.7L574.8 35.9L576.1 35.2L577.4 34.5L578.7 33.8L580.0 33.2L581.2 32.6L582.5 32.0L583.7 31.5L585.0 31.0L586.2 30.4L587.5 29.9L588.7 29.5L590.0 29.0L591.2 28.6L592.5 28.2L593.7 27.8L595.0 27.4L596.2 27.1L597.5 26.7L598.8 26.4L600.0 26.0L601.3 25.6L602.5 25.2L603.8 24.8L605.1 24.4L606.3 24.0L607.6 23.6L608.8 23.2L610.0 22.8L611.0 22.5L612.0 22.2L613.0 21.8L614.0 21.5L615.0 21.2L615.9 20.9L617.0 20.7L618.0 20.4L619.2 20.1L620.4 19.9L621.6 19.7L622.9 19.5L624.1 19.3L625.4 19.1L626.7 18.9L628.0 18.7L629.5 18.5L631.0 18.3L632.5 18.2L634.0 18.0L635.6 17.9L637.1 17.7L638.7 17.6L640.2 17.4" stroke="#000000" stroke-width="1.9" fill="none" stroke-linejoin="round"/>
<path d="M416.5 218.5L417.6 220.8L418.7 221.9L419.9 223.7L421.0 222.0L422.1 225.0L423.2 224.8L424.3 225.3L425.5 227.0L426.6 226.4L427.7 225.9L428.8 228.0L429.9 227.5L431.1 228.8L432.2 230.1L433.3 230.5L434.4 232.0L435.5 230.7L436.7 229.8L437.8 230.8L438.9 230.9L440.0 230.9L441.1 232.6L442.3 231.9L443.4 230.9L444.5 246.0L445.6 246.0L446.7 246.0L447.9 246.0L449.0 246.0L450.1 246.0L451.2 246.0L452.3 246.0L453.5 246.0L454.6 246.0L455.7 246.0L456.8 246.0L457.9 246.0L459.1 246.0L460.2 246.0L461.3 246.0L462.4 246.0L463.5 246.0L464.7 246.0L465.8 246.0L466.9 246.0L468.0 246.0L469.1 246.0L470.3 246.0L471.4 246.0L472.5 246.0L473.6 246.0L474.7 246.0L475.9 246.0L477.0 246.0L478.1 246.0L479.2 246.0L480.3 246.0L481.5 246.0L482.6 246.0L483.7 246.0L484.8 246.0L485.9 246.0L487.1 246.0L488.2 246.0L489.3 246.0L490.4 246.0L491.5 246.0L492.7 246.0L493.8 246.0L494.9 246.0L496.0 246.0L497.1 246.0L498.3 246.0L499.4 246.0L500.5 246.0L501.8 236.0L501.8 234.0L501.8 232.0L501.8 230.0L501.8 228.0L501.9 226.0L501.9 224.0L501.9 222.0L501.9 220.0L501.9 218.0L501.9 216.0L501.9 214.0L501.9 212.0L501.9 210.0L502.0 208.0L502.0 206.0L502.0 204.0L502.1 202.0L502.1 200.0L502.1 198.0L502.2 196.0L502.2 194.0L502.2 192.0L502.3 190.0L502.3 188.0L502.4 186.0L502.4 184.0L502.5 182.0L502.5 180.0L502.6 178.0L502.6 176.0L502.7 174.0L502.8 172.0L502.8 170.0L502.9 168.0L503.0 166.0L503.1 164.0L503.2 162.0L503.3 160.0L503.4 158.0L503.5 156.0L503.7 154.0L503.8 152.0L503.9 150.0L504.0 148.0L504.2 146.0L504.3 144.0L504.5 142.0L504.6 140.0L504.8 138.0L505.0 136.0L505.2 134.0L505.4 132.0L505.6 130.0L505.8 128.0L506.1 126.0L506.4 124.0L506.7 122.0L507.0 120.0L507.6 118.0L508.2 116.0L508.8 114.0L509.5 112.0L510.2 110.0L510.9 108.0L511.7 106.0L512.5 104.0L513.2 102.0L514.0 100.0L515.0 98.0L515.9 96.0L516.9 94.0L517.9 92.0L519.0 90.0L520.0 88.0L521.0 86.0L522.1 84.0L523.1 82.0L524.2 80.0L525.6 78.0L527.0 76.0L528.4 74.0L529.8 72.0L531.1 70.0L532.3 68.0L533.6 66.0L534.6 63.4L536.1 60.3L537.6 57.8L539.1 55.7L540.6 53.9L542.1 52.4L543.6 51.1L545.1 50.0L546.6 48.9L548.1 47.7L549.6 46.5L551.1 45.3L552.6 44.2L554.1 43.2L555.6 42.3L557.1 41.4L558.6 40.6L560.1 39.9L561.6 39.1L563.1 38.3L564.6 37.6L566.1 36.8L567.6 36.1L569.1 35.4L570.6 34.8L572.1 34.2L573.6 33.6L575.1 33.0L576.6 32.5L578.1 32.0L579.6 31.5L581.1 31.1L582.6 30.6L584.1 30.2L585.6 29.7L587.1 29.3L588.6 28.9L590.1 28.5L591.6 28.1L593.1 27.7L594.6 27.3L596.1 27.0L597.6 26.6L599.1 26.3L600.6 26.0L602.1 25.7L603.6 25.5L605.1 25.2L606.6 25.0L608.1 24.8L609.6 24.6L611.1 24.4L612.6 24.3L614.1 24.1L615.6 23.9L617.1 23.7L618.6 23.6L620.1 23.4L621.6 23.2L623.1 23.0L624.6 22.9L626.1 22.7L627.6 22.5L629.1 22.4L630.6 22.2L632.1 22.1L633.6 21.9L635.1 21.7L636.6 21.6L638.1 21.4L639.6 21.3L640.2 21.2" stroke="#ff0000" stroke-width="1.9" fill="none" stroke-linejoin="round"/>
<path d="M416.5 219.5L417.6 220.6L418.7 222.5L419.9 225.9L421.0 226.1L422.1 228.1L423.2 227.7L424.3 230.0L425.5 229.5L426.6 230.7L427.7 233.8L428.8 232.9L429.9 232.3L431.1 233.3L432.2 234.1L433.3 235.4L434.4 234.3L435.5 233.5L436.7 235.2L437.8 235.8L438.9 236.2L440.0 246.0L441.1 246.0L442.3 246.0L443.4 246.0L444.5 246.0L445.6 246.0L446.7 246.0L447.9 246.0L449.0 246.0L450.1 246.0L451.2 246.0L452.3 246.0L453.5 246.0L454.6 246.0L455.7 246.0L456.8 246.0L457.9 246.0L459.1 246.0L460.2 246.0L461.3 246.0L462.4 246.0L463.5 246.0L464.7 246.0L465.8 246.0L466.9 246.0L468.0 246.0L469.1 246.0L470.3 241.1L471.4 245.0L472.5 246.0L473.6 246.0L474.7 242.6L475.9 244.3L477.0 243.2L478.1 243.2L479.2 245.8L480.3 240.6L481.5 244.9L482.6 242.9L483.7 245.5L484.8 243.3L485.9 241.8L487.1 243.5L488.2 244.3L489.3 243.1L490.4 243.9L491.5 242.1L492.7 239.2L493.8 244.6L494.9 244.3L496.0 243.3L497.1 243.1L498.3 244.9L499.4 242.2L500.5 241.7L502.7 236.0L502.7 234.0L502.7 232.0L502.7 230.0L502.8 228.0L502.8 226.0L502.8 224.0L502.8 222.0L502.8 220.0L502.8 218.0L502.8 216.0L502.8 214.0L502.9 212.0L502.9 210.0L502.9 208.0L502.9 206.0L503.0 204.0L503.0 202.0L503.0 200.0L503.1 198.0L503.1 196.0L503.2 194.0L503.2 192.0L503.2 190.0L503.3 188.0L503.3 186.0L503.4 184.0L503.4 182.0L503.5 180.0L503.5 178.0L503.6 176.0L503.7 174.0L503.7 172.0L503.8 170.0L503.9 168.0L504.0 166.0L504.1 164.0L504.2 162.0L504.3 160.0L504.4 158.0L504.5 156.0L504.7 154.0L504.8 152.0L505.0 150.0L505.1 148.0L505.3 146.0L505.4 144.0L505.6 142.0L505.8 140.0L506.0 138.0L506.1 136.0L506.4 134.0L506.6 132.0L506.8 130.0L507.1 128.0L507.3 126.0L507.6 124.0L508.0 122.0L508.3 120.0L508.9 118.0L509.5 116.0L510.2 114.0L510.9 112.0L511.6 110.0L512.4 108.0L513.1 106.0L513.9 104.0L514.7 102.0L515.5 100.0L516.4 98.0L517.3 96.0L518.3 94.0L519.2 92.0L520.2 90.0L521.2 88.0L522.2 86.0L523.2 84.0L524.2 82.0L525.2 80.0L526.5 78.0L527.8 76.0L529.1 74.0L530.4 72.0L531.5 70.0L532.6 68.0L533.7 66.0L534.7 63.3L536.2 60.3L537.7 57.9L539.2 55.8L540.7 54.0L542.2 52.5L543.7 51.2L545.2 50.1L546.7 49.0L548.2 47.8L549.7 46.6L551.2 45.4L552.7 44.3L554.2 43.3L555.7 42.4L557.2 41.5L558.7 40.8L560.2 40.0L561.7 39.2L563.2 38.5L564.7 37.7L566.2 37.0L567.7 36.2L569.2 35.6L570.7 34.9L572.2 34.3L573.7 33.7L575.2 33.2L576.7 32.7L578.2 32.2L579.7 31.7L581.2 31.2L582.7 30.8L584.2 30.3L585.7 29.9L587.2 29.5L588.7 29.1L590.2 28.6L591.7 28.2L593.2 27.9L594.7 27.5L596.2 27.1L597.7 26.8L599.2 26.5L600.7 26.2L602.2 25.9L603.7 25.6L605.2 25.4L606.7 25.2L608.2 25.0L609.7 24.8L611.2 24.6L612.7 24.4L614.2 24.3L615.7 24.1L617.2 23.9L618.7 23.8L620.2 23.6L621.7 23.4L623.2 23.2L624.7 23.1L626.2 22.9L627.7 22.7L629.2 22.6L630.7 22.4L632.2 22.3L633.7 22.1L635.2 21.9L636.7 21.8L638.2 21.6L639.7 21.5L640.2 21.4" stroke="#0000ff" stroke-width="1.9" fill="none" stroke-linejoin="round"/>
<path d="M416.5 218.3L417.6 225.4L418.7 227.2L419.9 233.0L421.0 233.7L422.1 235.1L423.2 238.9L424.3 238.6L425.5 238.2L426.6 239.8L427.7 241.5L428.8 242.1L429.9 240.8L431.1 241.8L432.2 242.2L433.3 241.0L434.4 242.1L435.5 241.8L436.7 241.0L437.8 241.1L438.9 245.6L440.0 245.5L441.1 244.7L442.3 244.9L443.4 246.0L444.5 245.8L445.6 246.0L446.7 246.0L447.9 246.0L449.0 246.0L450.1 244.3L451.2 246.0L452.3 245.0L453.5 246.0L454.6 246.0L455.7 242.6L456.8 244.0L457.9 246.0L459.1 246.0L460.2 246.0L461.3 245.4L462.4 246.0L463.5 246.0L464.7 245.4L465.8 246.0L466.9 242.1L468.0 246.0L469.1 243.9L470.3 246.0L471.4 245.2L472.5 244.2L473.6 246.0L474.7 244.1L475.9 244.1L477.0 243.1L478.1 245.5L479.2 246.0L480.3 246.0L481.5 245.3L482.6 246.0L483.7 245.5L484.8 245.4L485.9 246.0L487.1 246.0L488.2 245.0L489.3 245.1L490.4 245.3L491.5 245.6L492.7 244.1L493.8 246.0L494.9 244.9L496.0 246.0L497.1 244.3L498.3 246.0L499.4 246.0L500.5 244.9L501.6 246.0L502.7 246.0L504.7 236.0L504.7 234.0L504.7 232.0L504.8 230.0L504.8 228.0L504.8 226.0L504.8 224.0L504.8 222.0L504.8 220.0L504.8 218.0L504.9 216.0L504.9 214.0L504.9 212.0L504.9 210.0L505.0 208.0L505.0 206.0L505.0 204.0L505.1 202.0L505.1 200.0L505.2 198.0L505.2 196.0L505.3 194.0L505.3 192.0L505.4 190.0L505.4 188.0L505.5 186.0L505.5 184.0L505.6 182.0L505.6 180.0L505.7 178.0L505.7 176.0L505.8 174.0L505.9 172.0L506.0 170.0L506.1 168.0L506.1 166.0L506.2 164.0L506.4 162.0L506.5 160.0L506.6 158.0L506.7 156.0L506.9 154.0L507.0 152.0L507.2 150.0L507.3 148.0L507.5 146.0L507.7 144.0L507.8 142.0L508.0 140.0L508.2 138.0L508.4 136.0L508.6 134.0L508.8 132.0L509.1 130.0L509.3 128.0L509.6 126.0L509.9 124.0L510.3 122.0L510.6 120.0L511.1 118.0L511.7 116.0L512.2 114.0L512.9 112.0L513.5 110.0L514.2 108.0L514.9 106.0L515.6 104.0L516.3 102.0L517.0 100.0L517.9 98.0L518.7 96.0L519.6 94.0L520.5 92.0L521.5 90.0L522.4 88.0L523.3 86.0L524.3 84.0L525.2 82.0L526.2 80.0L527.5 78.0L528.7 76.0L530.0 74.0L531.2 72.0L532.3 70.0L533.3 68.0L534.4 66.0L535.4 63.5L536.9 60.8L538.4 58.5L539.9 56.6L541.4 54.9L542.9 53.6L544.4 52.4L545.9 51.3L547.4 50.2L548.9 49.0L550.4 47.7L551.9 46.6L553.4 45.6L554.9 44.6L556.4 43.7L557.9 42.9L559.4 42.1L560.9 41.4L562.4 40.6L563.9 39.8L565.4 39.1L566.9 38.3L568.4 37.6L569.9 37.0L571.4 36.3L572.9 35.7L574.4 35.2L575.9 34.6L577.4 34.1L578.9 33.7L580.4 33.2L581.9 32.7L583.4 32.3L584.9 31.8L586.4 31.4L587.9 31.0L589.4 30.6L590.9 30.2L592.4 29.8L593.9 29.4L595.4 29.0L596.9 28.7L598.4 28.3L599.9 28.0L601.4 27.7L602.9 27.5L604.4 27.2L605.9 27.0L607.4 26.8L608.9 26.6L610.4 26.4L611.9 26.2L613.4 26.1L614.9 25.9L616.4 25.7L617.9 25.6L619.4 25.4L620.9 25.2L622.4 25.0L623.9 24.8L625.4 24.7L626.9 24.5L628.4 24.4L629.9 24.2L631.4 24.0L632.9 23.9L634.4 23.7L635.9 23.6L637.4 23.4L638.9 23.2L640.2 23.1" stroke="#006f00" stroke-width="1.9" fill="none" stroke-linejoin="round"/>
<path d="M416.5 220.7L417.6 228.2L418.7 231.7L419.9 236.3L421.0 240.4L422.1 241.8L423.2 243.1L424.3 243.5L425.5 241.9L426.6 244.7L427.7 242.0L428.8 239.4L429.9 236.7L431.1 236.7L432.2 238.0L433.3 239.2L434.4 234.9L435.5 234.1L436.7 235.8L437.8 233.4L438.9 236.1L440.0 242.5L441.1 235.9L442.3 240.1L443.4 235.1L444.5 239.2L445.6 237.7L446.7 238.4L447.9 239.9L449.0 242.9L450.1 239.0L451.2 238.8L452.3 236.1L453.5 240.0L454.6 237.9L455.7 240.6L456.8 238.4L457.9 242.9L459.1 233.5L460.2 237.8L461.3 240.7L462.4 237.6L463.5 236.5L464.7 237.8L465.8 235.1L466.9 238.8L468.0 244.6L469.1 241.4L470.3 235.7L471.4 236.3L472.5 237.5L473.6 241.0L474.7 236.4L475.9 236.8L477.0 240.7L478.1 240.7L479.2 237.6L480.3 235.7L481.5 234.6L482.6 236.8L483.7 232.9L484.8 240.4L485.9 236.9L487.1 239.7L488.2 243.2L489.3 241.4L490.4 235.6L491.5 240.7L492.7 241.4L493.8 236.6L494.9 236.1L496.0 238.2L497.1 234.5L498.3 242.2L499.4 232.5L500.5 235.7L501.6 237.8L502.7 237.9L503.9 238.9L505.0 239.2L506.2 236.0L506.2 234.0L506.3 232.0L506.3 230.0L506.3 228.0L506.4 226.0L506.4 224.0L506.4 222.0L506.5 220.0L506.5 218.0L506.5 216.0L506.6 214.0L506.6 212.0L506.7 210.0L506.7 208.0L506.8 206.0L506.8 204.0L506.9 202.0L506.9 200.0L507.0 198.0L507.1 196.0L507.1 194.0L507.2 192.0L507.3 190.0L507.3 188.0L507.4 186.0L507.5 184.0L507.5 182.0L507.6 180.0L507.7 178.0L507.8 176.0L507.9 174.0L507.9 172.0L508.0 170.0L508.1 168.0L508.2 166.0L508.4 164.0L508.5 162.0L508.6 160.0L508.8 158.0L508.9 156.0L509.1 154.0L509.2 152.0L509.3 150.0L509.4 148.0L509.6 146.0L509.7 144.0L509.9 142.0L510.0 140.0L510.2 138.0L510.4 136.0L510.6 134.0L510.8 132.0L511.0 130.0L511.2 128.0L511.5 126.0L511.8 124.0L512.1 122.0L512.4 120.0L512.8 118.0L513.3 116.0L513.8 114.0L514.3 112.0L514.9 110.0L515.5 108.0L516.1 106.0L516.7 104.0L517.4 102.0L518.0 100.0L518.8 98.0L519.7 96.0L520.5 94.0L521.4 92.0L522.3 90.0L523.2 88.0L524.1 86.0L525.0 84.0L526.0 82.0L526.9 80.0L528.0 78.0L529.2 76.0L530.3 74.0L531.4 72.0L532.4 70.0L533.3 68.0L534.3 66.0L535.3 63.4L536.8 60.7L538.3 58.4L539.8 56.4L541.3 54.7L542.8 53.4L544.3 52.2L545.8 51.1L547.3 49.9L548.8 48.7L550.3 47.5L551.8 46.4L553.3 45.3L554.8 44.3L556.3 43.4L557.8 42.6L559.3 41.9L560.8 41.1L562.3 40.3L563.8 39.6L565.3 38.8L566.8 38.1L568.3 37.4L569.8 36.7L571.3 36.1L572.8 35.5L574.3 34.9L575.8 34.4L577.3 33.9L578.8 33.4L580.3 32.9L581.8 32.5L583.3 32.0L584.8 31.6L586.3 31.1L587.8 30.7L589.3 30.3L590.8 29.9L592.3 29.5L593.8 29.1L595.3 28.7L596.8 28.4L598.3 28.1L599.8 27.7L601.3 27.5L602.8 27.2L604.3 26.9L605.8 26.7L607.3 26.5L608.8 26.3L610.3 26.1L611.8 25.9L613.3 25.8L614.8 25.6L616.3 25.4L617.8 25.3L619.3 25.1L620.8 24.9L622.3 24.7L623.8 24.6L625.3 24.4L626.8 24.2L628.3 24.1L629.8 23.9L631.3 23.7L632.8 23.6L634.3 23.4L635.8 23.3L637.3 23.1L638.8 23.0L640.2 22.8" stroke="#1cb8c4" stroke-width="1.9" fill="none" stroke-linejoin="round"/>
<path d="M416.5 218.3L417.6 225.7L418.7 226.8L419.9 232.1L421.0 233.7L422.1 236.2L423.2 237.5L424.3 237.2L425.5 237.4L426.6 241.0L427.7 240.4L428.8 238.4L429.9 244.5L431.1 245.2L432.2 237.0L433.3 241.0L434.4 245.9L435.5 242.1L436.7 240.9L437.8 240.0L438.9 239.3L440.0 240.0L441.1 239.3L442.3 242.1L443.4 239.6L444.5 239.5L445.6 234.4L446.7 236.9L447.9 235.0L449.0 236.6L450.1 239.3L451.2 237.8L452.3 238.1L453.5 237.8L454.6 237.1L455.7 236.7L456.8 236.3L457.9 238.7L459.1 234.6L460.2 239.9L461.3 237.1L462.4 235.4L463.5 235.9L464.7 235.5L465.8 237.4L466.9 235.4L468.0 239.5L469.1 235.3L470.3 232.0L471.4 235.4L472.5 232.6L473.6 236.9L474.7 239.3L475.9 238.4L477.0 234.1L478.1 235.3L479.2 240.9L480.3 237.7L481.5 237.0L482.6 239.3L483.7 242.4L484.8 239.9L485.9 237.3L487.1 237.8L488.2 238.4L489.3 235.7L490.4 234.7L491.5 237.1L492.7 234.9L493.8 236.9L494.9 237.2L496.0 242.2L497.1 235.1L498.3 236.7L499.4 236.6L500.5 238.0L501.6 239.3L502.7 235.9L503.9 235.2L505.0 233.4L506.1 235.0L507.2 238.2L508.3 237.1L509.5 234.8L511.0 236.0L511.0 231.5L511.0 227.1L511.0 222.7L511.0 218.3L511.1 213.8L511.1 209.3L511.1 204.7L511.2 200.0L511.3 194.6L511.4 189.0L511.5 183.2L511.6 177.5L511.8 171.7L512.0 166.0L512.3 160.4L512.6 155.0L512.9 150.3L513.3 145.7L513.7 141.1L514.1 136.6L514.6 132.2L515.1 127.9L515.7 123.9L516.3 120.0L516.9 117.2L517.5 114.5L518.1 111.9L518.8 109.4L519.4 107.0L520.1 104.6L520.8 102.3L521.5 100.0L522.1 98.1L522.6 96.2L523.2 94.4L523.8 92.6L524.4 90.9L524.9 89.2L525.5 87.6L526.0 86.0L526.4 84.8L526.8 83.7L527.2 82.6L527.6 81.5L527.9 80.5L528.3 79.4L528.7 78.4L529.1 77.3L529.5 76.2L529.9 75.1L530.3 74.0L530.7 72.9L531.1 71.8L531.5 70.7L532.0 69.6L532.4 68.5L532.8 67.4L533.2 66.3L533.7 65.2L534.1 64.2L534.5 63.1L535.0 62.0L535.5 61.0L536.0 60.0L536.5 59.1L537.1 58.1L537.7 57.2L538.3 56.3L538.9 55.5L539.6 54.6L540.3 53.8L541.0 53.0L541.8 52.2L542.6 51.5L543.5 50.8L544.3 50.1L545.2 49.5L546.1 48.8L546.9 48.2L547.7 47.6L548.3 47.1L548.8 46.7L549.4 46.2L549.9 45.8L550.4 45.4L550.9 45.0L551.5 44.6L552.0 44.2L552.5 43.8L553.0 43.5L553.5 43.2L554.0 42.8L554.5 42.5L555.0 42.2L555.5 41.9L556.0 41.6L556.5 41.3L556.9 41.1L557.4 40.8L557.9 40.6L558.4 40.3L558.9 40.1L559.4 39.8L560.0 39.5L561.0 39.0L562.2 38.4L563.4 37.8L564.7 37.1L566.0 36.4L567.4 35.8L568.7 35.2L570.0 34.6L571.2 34.1L572.4 33.6L573.6 33.2L574.8 32.7L576.0 32.3L577.2 31.9L578.6 31.4L580.0 31.0L582.2 30.3L584.5 29.6L587.0 28.9L589.5 28.2L592.2 27.5L594.8 26.9L597.4 26.2L600.0 25.7L602.5 25.2L605.0 24.8L607.5 24.5L610.0 24.2L612.5 23.9L615.0 23.6L617.5 23.3L620.0 23.0L622.5 22.7L625.0 22.4L627.6 22.1L630.1 21.9L632.6 21.6L635.1 21.3L637.7 21.1L640.2 20.8" stroke="#c800f6" stroke-width="1.9" fill="none" stroke-linejoin="round"/>
<path d="M416.5 218.6L417.6 225.7L418.7 230.8L419.9 232.9L421.0 235.4L422.1 235.4L423.2 237.1L424.3 242.5L425.5 234.6L426.6 239.0L427.7 240.5L428.8 239.3L429.9 238.5L431.1 240.2L432.2 240.4L433.3 240.2L434.4 236.3L435.5 240.1L436.7 238.6L437.8 239.3L438.9 241.0L440.0 241.9L441.1 242.5L442.3 239.4L443.4 242.5L444.5 243.1L445.6 242.4L446.7 243.2L447.9 238.6L449.0 238.5L450.1 241.5L451.2 234.9L452.3 239.6L453.5 237.4L454.6 237.9L455.7 233.8L456.8 236.3L457.9 238.9L459.1 241.7L460.2 242.0L461.3 238.8L462.4 238.4L463.5 236.5L464.7 240.2L465.8 238.3L466.9 240.8L468.0 244.3L469.1 238.9L470.3 234.5L471.4 236.4L472.5 234.6L473.6 235.4L474.7 242.9L475.9 239.7L477.0 234.4L478.1 241.0L479.2 242.8L480.3 237.9L481.5 237.0L482.6 238.0L483.7 239.9L484.8 240.9L485.9 242.5L487.1 242.6L488.2 242.6L489.3 243.1L490.4 241.0L491.5 234.4L492.7 238.6L493.8 239.9L494.9 237.9L496.0 241.7L497.1 237.9L498.3 236.2L499.4 243.3L500.5 241.0L501.6 239.7L502.7 241.8L503.9 242.2L505.0 240.0L506.1 231.6L507.2 237.0L508.3 237.6L509.5 236.0L510.6 239.6L511.7 242.6L512.8 237.5L513.9 235.6L515.2 236.0L515.2 231.5L515.2 227.1L515.2 222.7L515.2 218.3L515.2 213.8L515.2 209.3L515.2 204.7L515.3 200.0L515.4 194.6L515.5 189.0L515.6 183.2L515.8 177.5L516.0 171.7L516.2 166.0L516.4 160.4L516.7 155.0L517.0 150.3L517.3 145.7L517.6 141.1L518.0 136.6L518.4 132.2L518.8 127.9L519.3 123.9L519.8 120.0L520.2 117.2L520.7 114.4L521.2 111.8L521.7 109.2L522.2 106.7L522.7 104.4L523.2 102.1L523.6 100.0L523.9 98.6L524.1 97.3L524.4 96.0L524.6 94.8L524.9 93.6L525.1 92.4L525.3 91.2L525.6 90.0L525.9 88.8L526.1 87.5L526.4 86.3L526.6 85.0L526.9 83.8L527.2 82.5L527.4 81.3L527.7 80.0L528.0 78.6L528.2 77.1L528.5 75.7L528.8 74.2L529.1 72.7L529.3 71.3L529.7 69.9L530.0 68.5L530.3 67.3L530.7 66.1L531.0 64.9L531.4 63.8L531.8 62.7L532.2 61.6L532.6 60.5L533.0 59.5L533.4 58.7L533.8 57.9L534.2 57.1L534.6 56.3L535.0 55.6L535.5 54.8L536.0 54.1L536.5 53.3L537.3 52.3L538.1 51.3L539.0 50.2L540.0 49.1L541.0 48.1L541.9 47.1L542.9 46.1L543.8 45.2L544.5 44.5L545.2 43.8L545.9 43.1L546.6 42.4L547.3 41.8L548.0 41.2L548.7 40.6L549.5 40.0L550.3 39.5L551.1 38.9L551.9 38.4L552.8 38.0L553.6 37.5L554.5 37.1L555.3 36.7L556.0 36.3L556.5 36.0L557.0 35.8L557.5 35.6L557.9 35.3L558.4 35.1L558.9 34.9L559.4 34.7L560.0 34.4L561.0 34.0L562.2 33.5L563.4 32.9L564.7 32.4L566.0 31.9L567.4 31.3L568.7 30.8L570.0 30.4L571.2 30.0L572.4 29.7L573.6 29.3L574.8 29.0L576.0 28.7L577.2 28.4L578.6 28.1L580.0 27.8L582.2 27.3L584.5 26.8L587.0 26.2L589.6 25.7L592.2 25.1L594.8 24.6L597.4 24.1L600.0 23.7L602.5 23.3L605.0 23.0L607.5 22.6L610.0 22.3L612.5 22.0L615.0 21.8L617.5 21.5L620.0 21.2L622.5 20.9L625.0 20.6L627.6 20.4L630.1 20.1L632.6 19.8L635.1 19.5L637.7 19.3L640.2 19.0" stroke="#f0913e" stroke-width="1.9" fill="none" stroke-linejoin="round"/>
</g>
<text x="91.7" y="34.4" font-size="12.3">V<tspan font-size="8.5" dy="2.8">g,stress</tspan><tspan dy="-2.8"> = – 20 V</tspan></text>
<text x="91.7" y="49.599999999999994" font-size="12.3">V<tspan font-size="8.5" dy="2.8">d,stress</tspan><tspan dy="-2.8"> = + 10 V</tspan></text>
<text x="430.4" y="35.4" font-size="12.3">V<tspan font-size="8.5" dy="2.8">g,stress</tspan><tspan dy="-2.8"> = – 20 V</tspan></text>
<text x="430.4" y="50.599999999999994" font-size="12.3">V<tspan font-size="8.5" dy="2.8">d,stress</tspan><tspan dy="-2.8"> = + 10 V</tspan></text>
<path d="M89.1 75.10H120.1" stroke="#000000" stroke-width="2"/>
<text x="123.2" y="79.30" font-size="12.55">initial</text>
<path d="M89.1 90.78H120.1" stroke="#ff0000" stroke-width="2"/>
<text x="123.2" y="94.98" font-size="12.55">30 s</text>
<path d="M89.1 106.46H120.1" stroke="#0000ff" stroke-width="2"/>
<text x="123.2" y="110.66" font-size="12.55">100 s</text>
<path d="M89.1 122.14H120.1" stroke="#006f00" stroke-width="2"/>
<text x="123.2" y="126.34" font-size="12.55">300 s</text>
<path d="M89.1 137.82H120.1" stroke="#1cb8c4" stroke-width="2"/>
<text x="123.2" y="142.02" font-size="12.55">1000 s</text>
<path d="M89.1 153.50H120.1" stroke="#c800f6" stroke-width="2"/>
<text x="123.2" y="157.70" font-size="12.55">3000 s</text>
<path d="M89.1 169.18H120.1" stroke="#f0913e" stroke-width="2"/>
<text x="123.2" y="173.38" font-size="12.55">10000 s</text>
<path d="M421.3 75.40H452.4" stroke="#000000" stroke-width="2"/>
<text x="455.1" y="79.60" font-size="12.55">initial</text>
<path d="M421.3 91.08H452.4" stroke="#ff0000" stroke-width="2"/>
<text x="455.1" y="95.28" font-size="12.55">30 s</text>
<path d="M421.3 106.76H452.4" stroke="#0000ff" stroke-width="2"/>
<text x="455.1" y="110.96" font-size="12.55">100 s</text>
<path d="M421.3 122.44H452.4" stroke="#006f00" stroke-width="2"/>
<text x="455.1" y="126.64" font-size="12.55">300 s</text>
<path d="M421.3 138.12H452.4" stroke="#1cb8c4" stroke-width="2"/>
<text x="455.1" y="142.32" font-size="12.55">1000 s</text>
<path d="M421.3 153.80H452.4" stroke="#c800f6" stroke-width="2"/>
<text x="455.1" y="158.00" font-size="12.55">3000 s</text>
<path d="M421.3 169.48H452.4" stroke="#f0913e" stroke-width="2"/>
<text x="455.1" y="173.68" font-size="12.55">10000 s</text>
<text x="215.6" y="217.1" font-size="12.6">W/L = 20/20</text>
<text x="544.9" y="217.3" font-size="12.6">W/L = 20/20</text>
</svg>
</body></html>
